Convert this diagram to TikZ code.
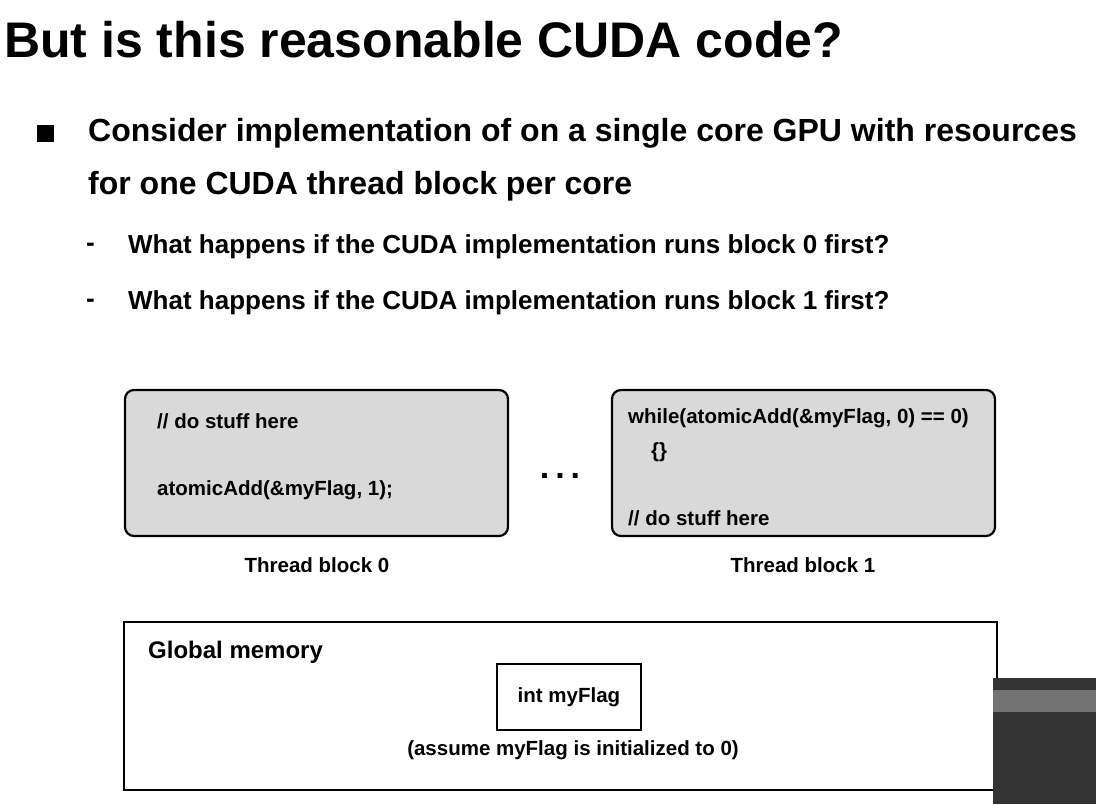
\documentclass[tikz,border=0pt]{standalone}
\usepackage{fontspec}
\setmainfont{Liberation Sans}
\begin{document}
\begin{tikzpicture}[x=1pt,y=-1pt,
  codebox/.style={draw=black,line width=2.2pt,fill=gray!30,rounded corners=9pt},
  txt/.style={font=\bfseries\fontsize{20.5}{24}\selectfont,anchor=west,inner sep=0},
  lbl/.style={font=\bfseries\fontsize{20.5}{24}\selectfont,inner sep=0}]
\useasboundingbox (0,0) rectangle (1096,804);
\node[anchor=west,inner sep=0,font=\bfseries\fontsize{50}{56}\selectfont] (title) at (4,40) {But is this reasonable CUDA code?};
\node[fill=black,minimum size=17pt,inner sep=0] (sq) at (45,133) {};
\node[anchor=west,inner sep=0,font=\bfseries\fontsize{32}{38}\selectfont] (b1) at (88,133) {Consider implementation of on a single core GPU with resources};
\node[anchor=west,inner sep=0,font=\bfseries\fontsize{32}{38}\selectfont] (b2) at (88,186) {for one CUDA thread block per core};
\node[anchor=west,inner sep=0,font=\bfseries\fontsize{26}{30}\selectfont] (s1) at (86,247) {-};
\node[anchor=west,inner sep=0,font=\bfseries\fontsize{26}{30}\selectfont] (s1t) at (128,247) {What happens if the CUDA implementation runs block 0 first?};
\node[anchor=west,inner sep=0,font=\bfseries\fontsize{26}{30}\selectfont] (s2) at (86,303) {-};
\node[anchor=west,inner sep=0,font=\bfseries\fontsize{26}{30}\selectfont] (s2t) at (128,303) {What happens if the CUDA implementation runs block 1 first?};
\draw[codebox] (125,390) rectangle (508,536);
\draw[codebox] (612,390) rectangle (995,536);
\node[txt] (c1) at (157,421) {// do stuff here};
\node[txt] (c2) at (157,490) {atomicAdd(\&myFlag, 1);};
\node[txt] (c3) at (628,418) {while(atomicAdd(\&myFlag, 0) == 0)};
\node[txt] (c4) at (651,452) {\{\}};
\node[txt] (c5) at (628,518) {// do stuff here};
\node[lbl] (dots) at (560,476) {\fontsize{34}{34}\selectfont .\hspace{6pt}.\hspace{6pt}.};
\node[lbl] (t0) at (317,565) {Thread block 0};
\node[lbl] (t1) at (803,565) {Thread block 1};
\draw[line width=2pt] (124,622) rectangle (997,790);
\node[txt,font=\bfseries\fontsize{24}{28}\selectfont] (gm) at (148,652) {Global memory};
\node[draw,line width=2pt,minimum width=144pt,minimum height=66pt,lbl] (flag) at (569,697) {int myFlag};
\node[lbl] (as) at (573,750) {(assume myFlag is initialized to 0)};
\fill[black!80] (993,678) rectangle (1096,804);
\fill[black!55] (993,690) rectangle (1096,712);
\end{tikzpicture}
\end{document}
